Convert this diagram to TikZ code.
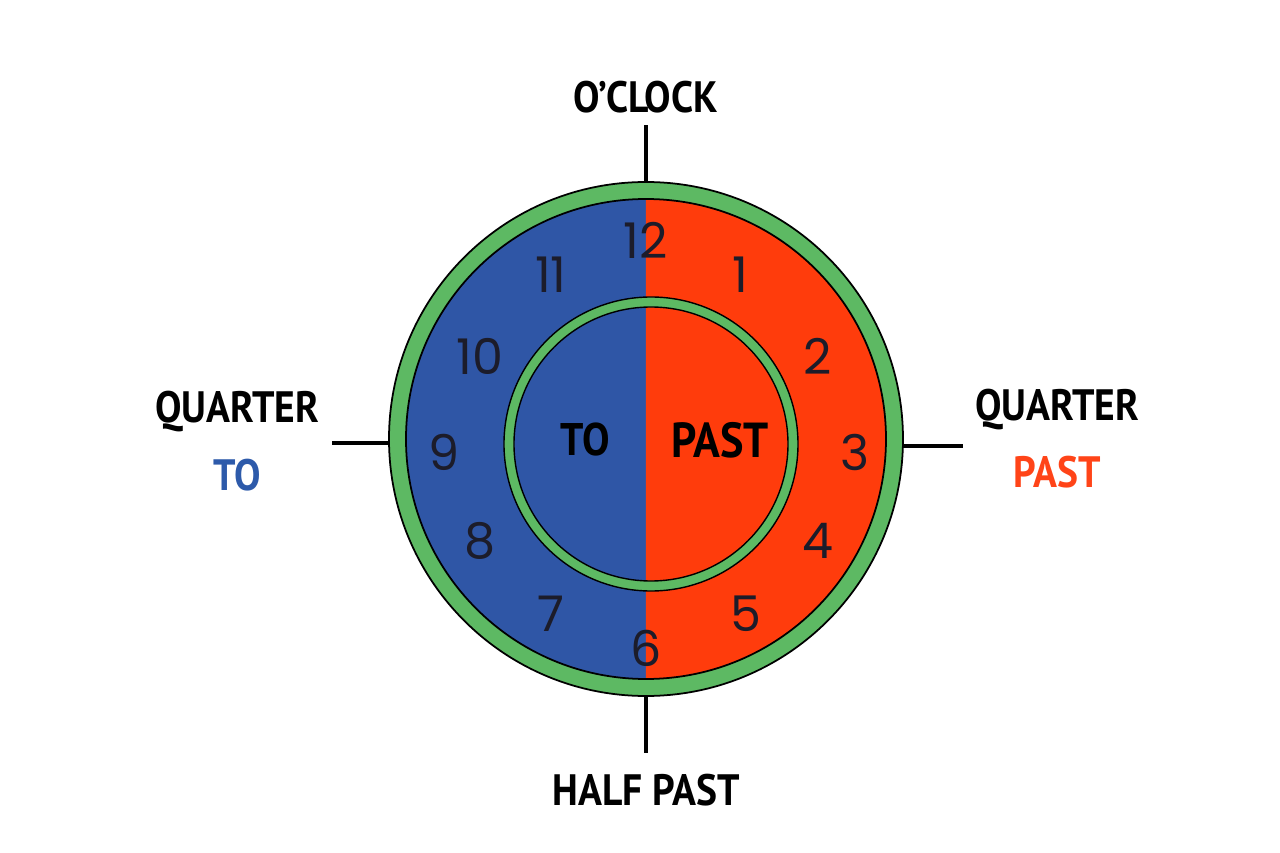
\documentclass[tikz,border=0pt]{standalone}
\usepackage{fontspec}
\usepackage{xcolor}
\usetikzlibrary{calc, positioning}
\newfontfamily\numfont{Poppins}
\newfontfamily\capfont[FakeStretch=0.9]{PT Sans}
\definecolor{toblue}{HTML}{2F56A6}
\definecolor{pastred}{HTML}{FF3C0C}
\definecolor{ringgreen}{HTML}{5DB963}
\definecolor{labelblue}{HTML}{2D5AAA}
\definecolor{labelred}{HTML}{FF4418}
\definecolor{numink}{HTML}{1C1C2A}

\begin{document}
\begin{tikzpicture}[
    hour/.style={font=\numfont\fontsize{28}{28}\selectfont, text=numink},
    caption/.style={font=\capfont\bfseries\fontsize{25}{25}\selectfont},
    tick/.style={line width=2.3pt}
]
    \useasboundingbox (-12.92,-8.28) rectangle (12.68,8.78);

    % 1. Vành xanh ngoài
    \fill[ringgreen] (0,0) circle (5.14);
    \draw[line width=1pt] (0,0) circle (5.14);

    % 2. Hai nửa mặt đồng hồ (TO bên trái, PAST bên phải)
    \fill[toblue] (0,-4.80) arc (270:90:4.80) -- cycle;
    \fill[pastred] (0,4.80) arc (90:-90:4.80) -- cycle;
    \draw[line width=1pt] (0,0) circle (4.80);

    % 3. Vành xanh trong
    \draw[ringgreen, line width=0.2cm] (0.1,-0.1) circle (2.84);
    \draw[line width=0.8pt] (0.1,-0.1) circle (2.94);
    \draw[line width=0.8pt] (0.1,-0.1) circle (2.74);

    % Nút mặt đồng hồ để nối các vạch
    \node[circle, minimum size=10.28cm, inner sep=0pt] (face) at (0,0) {};

    % 4. Các số giờ
    \foreach \h/\px/\py in {12/0/3.98, 1/1.88/3.28, 2/3.44/1.66, 3/4.18/-0.26,
        4/3.44/-2.04, 5/2.00/-3.50, 6/0/-4.18, 7/-1.90/-3.50,
        8/-3.32/-2.04, 9/-4.04/-0.26, 10/-3.32/1.66, 11/-1.90/3.28}
        \node[hour] (h\h) at (\px,\py) {\h};

    % 5. Chữ ở giữa
    \node[caption, font=\capfont\bfseries\fontsize{26}{26}\selectfont] (to) at (-1.22,-0.02) {TO};
    \node[caption, font=\capfont\bfseries\fontsize{28}{28}\selectfont] (past) at (1.48,-0.02) {PAST};

    % 6. Các vạch và nhãn bên ngoài
    \coordinate (tickT) at (0,6.28);
    \coordinate (tickB) at (0,-6.28);
    \coordinate (tickL) at (-6.28,-0.08);
    \coordinate (tickR) at (6.34,-0.14);
    \draw[tick] (face.north) -- (tickT);
    \draw[tick] (face.south) -- (tickB);
    \draw[tick] (tickL -| face.west) -- (tickL);
    \draw[tick] (tickR -| face.east) -- (tickR);

    \node[caption] (oclock) at (0,6.84) {O’CLOCK};
    \node[caption] (halfpast) at (0,-7.02) {HALF PAST};
    \node[caption] (qto) at (-8.18,0.54) {QUARTER};
    \node[caption, text=labelblue] (qtoword) at (-8.18,-0.72) {TO};
    \node[caption] (qpast) at (8.22,0.58) {QUARTER};
    \node[caption, text=labelred] (qpastword) at (8.22,-0.66) {PAST};
\end{tikzpicture}
\end{document}
